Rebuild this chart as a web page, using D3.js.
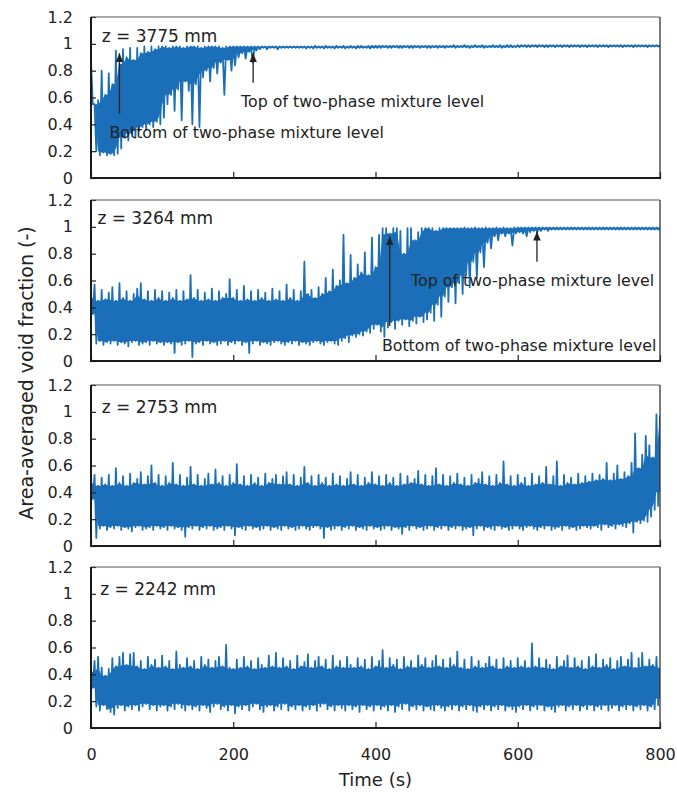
<!DOCTYPE html>
<html>
<head>
<meta charset="utf-8">
<script src="https://cdn.jsdelivr.net/npm/d3@7"></script>
<style>
  body { margin: 0; background: #fff; }
  text { font-family: "DejaVu Sans", sans-serif; fill: #222; }
</style>
</head>
<body>
<svg id="chart" width="677" height="792"></svg>
<script>
// time grid (s), one reading pair (peak / trough) per 5 s bin
const times = d3.range(0, 801, 5);
const yTicks = [0, 0.2, 0.4, 0.6, 0.8, 1, 1.2];
const xTicks = [0, 200, 400, 600, 800];
const panelLabels = ["z = 3775 mm", "z = 3264 mm", "z = 2753 mm", "z = 2242 mm"];

// z = 3775 mm
const z3775Hi = [
  0.87,0.55,0.58,0.80,0.62,0.78,0.70,0.95,0.85,0.96,0.90,0.97,0.88,0.97,0.93,0.98,0.94,0.98,0.96,0.98,
  0.98,0.98,0.97,0.98,0.98,0.98,0.97,0.98,0.98,0.98,0.98,0.97,0.98,0.98,0.98,0.98,0.98,0.97,0.98,0.98,
  0.98,0.98,0.98,0.98,0.98,0.98,0.98,0.98,0.98,0.98,0.98,0.98,0.98,0.98,0.98,0.98,0.98,0.98,0.98,0.98,
  0.98,0.98,0.98,0.985,0.98,0.98,0.985,0.98,0.98,0.985,0.98,0.985,0.98,0.985,0.98,0.985,0.985,0.98,0.985,0.985,
  0.985,0.985,0.985,0.985,0.985,0.985,0.985,0.985,0.985,0.985,0.985,0.985,0.985,0.985,0.985,0.985,0.985,0.985,0.985,0.985,
  0.985,0.985,0.99,0.985,0.985,0.99,0.985,0.985,0.99,0.985,0.99,0.985,0.985,0.99,0.985,0.99,0.985,0.99,0.99,0.985,
  0.99,0.99,0.99,0.99,0.99,0.99,0.99,0.99,0.99,0.99,0.99,0.99,0.99,0.99,0.99,0.99,0.99,0.99,0.99,0.99,
  0.99,0.99,0.99,0.99,0.99,0.99,0.99,0.99,0.99,0.99,0.99,0.99,0.99,0.99,0.99,0.99,0.99,0.99,0.99,0.99,
  0.99
];
const z3775Lo = [
  0.55,0.20,0.17,0.19,0.17,0.18,0.17,0.18,0.22,0.30,0.28,0.33,0.30,0.35,0.38,0.36,0.40,0.38,0.42,0.40,
  0.45,0.55,0.62,0.50,0.66,0.43,0.72,0.65,0.40,0.70,0.38,0.75,0.80,0.72,0.82,0.78,0.86,0.62,0.88,0.80,
  0.84,0.90,0.93,0.89,0.94,0.86,0.95,0.96,0.97,0.96,0.97,0.97,0.96,0.97,0.97,0.97,0.97,0.97,0.97,0.97,
  0.965,0.97,0.965,0.97,0.97,0.965,0.97,0.97,0.965,0.97,0.97,0.965,0.97,0.97,0.965,0.97,0.97,0.97,0.965,0.97,
  0.97,0.97,0.975,0.97,0.97,0.975,0.97,0.97,0.975,0.97,0.97,0.975,0.97,0.975,0.97,0.97,0.975,0.97,0.975,0.97,
  0.975,0.975,0.97,0.975,0.975,0.975,0.97,0.975,0.975,0.975,0.97,0.975,0.975,0.975,0.975,0.97,0.975,0.975,0.975,0.975,
  0.975,0.98,0.975,0.975,0.98,0.975,0.98,0.975,0.975,0.98,0.975,0.98,0.975,0.98,0.975,0.98,0.98,0.975,0.98,0.975,
  0.98,0.98,0.975,0.98,0.98,0.975,0.98,0.98,0.98,0.975,0.98,0.98,0.975,0.98,0.98,0.98,0.975,0.98,0.98,0.98,
  0.98
];

// z = 3264 mm
const z3264Hi = [
  0.48,0.57,0.45,0.53,0.46,0.51,0.55,0.45,0.58,0.47,0.52,0.45,0.50,0.54,0.58,0.46,0.52,0.45,0.53,0.47,
  0.52,0.45,0.51,0.47,0.53,0.45,0.52,0.46,0.64,0.47,0.53,0.45,0.51,0.46,0.54,0.45,0.52,0.47,0.50,0.61,
  0.47,0.53,0.45,0.56,0.46,0.52,0.45,0.53,0.47,0.51,0.45,0.54,0.46,0.52,0.45,0.57,0.47,0.53,0.45,0.52,
  0.74,0.50,0.53,0.47,0.55,0.50,0.62,0.52,0.68,0.56,0.60,0.94,0.58,0.79,0.62,0.72,0.66,0.81,0.64,0.92,
  0.70,0.94,0.99,0.99,0.95,0.99,0.99,0.97,0.80,0.99,0.99,0.90,0.96,0.99,0.99,0.99,0.99,0.97,0.99,0.99,
  0.99,0.99,0.99,0.99,0.99,0.995,0.99,0.99,0.995,0.99,0.99,0.995,0.99,0.99,0.995,0.99,0.995,0.99,0.99,0.995,
  0.995,0.995,0.995,0.995,0.995,0.995,0.995,0.995,0.995,0.995,0.995,0.995,0.995,0.995,0.995,0.995,0.995,0.995,0.995,0.995,
  0.995,0.995,0.995,0.995,0.995,0.995,0.995,0.995,0.995,0.995,0.995,0.995,0.995,0.995,0.995,0.995,0.995,0.995,0.995,0.995,
  0.995
];
const z3264Lo = [
  0.35,0.13,0.15,0.12,0.14,0.13,0.15,0.12,0.14,0.13,0.11,0.14,0.15,0.12,0.13,0.14,0.12,0.15,0.13,0.14,
  0.12,0.14,0.13,0.06,0.14,0.12,0.13,0.15,0.03,0.13,0.14,0.12,0.15,0.13,0.14,0.12,0.13,0.15,0.12,0.14,
  0.13,0.15,0.12,0.14,0.06,0.13,0.15,0.12,0.14,0.13,0.12,0.14,0.15,0.13,0.12,0.14,0.13,0.15,0.12,0.14,
  0.13,0.12,0.14,0.15,0.13,0.12,0.14,0.15,0.13,0.12,0.15,0.17,0.14,0.19,0.18,0.20,0.19,0.22,0.21,0.24,
  0.27,0.22,0.18,0.25,0.29,0.24,0.30,0.27,0.31,0.26,0.30,0.28,0.33,0.29,0.31,0.36,0.30,0.42,0.33,0.48,
  0.44,0.55,0.43,0.58,0.50,0.64,0.55,0.74,0.62,0.81,0.70,0.88,0.84,0.93,0.90,0.95,0.93,0.95,0.86,0.95,
  0.96,0.95,0.93,0.96,0.97,0.96,0.97,0.98,0.97,0.98,0.98,0.98,0.98,0.98,0.98,0.98,0.98,0.98,0.98,0.98,
  0.98,0.98,0.98,0.98,0.98,0.98,0.98,0.98,0.98,0.98,0.98,0.98,0.98,0.98,0.98,0.98,0.98,0.98,0.98,0.98,
  0.98
];

// z = 2753 mm
const z2753Hi = [
  0.48,0.53,0.45,0.51,0.46,0.53,0.45,0.58,0.47,0.52,0.45,0.54,0.47,0.50,0.55,0.46,0.52,0.60,0.47,0.53,
  0.45,0.52,0.47,0.62,0.46,0.53,0.45,0.51,0.59,0.46,0.53,0.45,0.50,0.54,0.46,0.57,0.47,0.52,0.45,0.53,
  0.47,0.61,0.46,0.52,0.45,0.53,0.47,0.51,0.45,0.54,0.47,0.50,0.53,0.46,0.52,0.55,0.46,0.53,0.45,0.51,
  0.59,0.47,0.52,0.45,0.53,0.47,0.51,0.45,0.54,0.46,0.52,0.45,0.50,0.55,0.46,0.53,0.45,0.51,0.47,0.55,
  0.46,0.52,0.45,0.53,0.47,0.51,0.45,0.54,0.46,0.52,0.47,0.50,0.56,0.46,0.53,0.45,0.52,0.58,0.46,0.53,
  0.45,0.52,0.47,0.54,0.46,0.51,0.45,0.53,0.47,0.50,0.55,0.46,0.52,0.45,0.53,0.47,0.63,0.46,0.52,0.45,
  0.53,0.47,0.51,0.45,0.54,0.46,0.52,0.47,0.59,0.46,0.52,0.63,0.45,0.53,0.47,0.51,0.46,0.54,0.47,0.52,
  0.48,0.54,0.49,0.53,0.50,0.62,0.49,0.54,0.60,0.50,0.55,0.52,0.62,0.84,0.58,0.68,0.82,0.75,0.66,0.98,
  0.97
];
const z2753Lo = [
  0.35,0.06,0.13,0.15,0.12,0.14,0.13,0.15,0.12,0.14,0.13,0.11,0.14,0.15,0.12,0.13,0.14,0.12,0.15,0.13,
  0.14,0.12,0.15,0.13,0.14,0.12,0.07,0.14,0.13,0.15,0.12,0.14,0.13,0.15,0.12,0.13,0.14,0.12,0.15,0.13,
  0.08,0.14,0.13,0.12,0.15,0.13,0.14,0.12,0.13,0.15,0.12,0.14,0.13,0.12,0.15,0.13,0.14,0.12,0.13,0.15,
  0.13,0.12,0.14,0.15,0.13,0.06,0.14,0.12,0.13,0.15,0.12,0.14,0.13,0.15,0.12,0.14,0.13,0.12,0.15,0.13,
  0.14,0.12,0.13,0.15,0.12,0.14,0.13,0.09,0.14,0.12,0.15,0.13,0.14,0.12,0.13,0.15,0.12,0.14,0.13,0.15,
  0.12,0.14,0.13,0.15,0.12,0.13,0.14,0.08,0.13,0.15,0.12,0.14,0.13,0.12,0.15,0.13,0.14,0.12,0.13,0.15,
  0.13,0.12,0.14,0.15,0.13,0.12,0.14,0.13,0.15,0.12,0.13,0.14,0.12,0.15,0.13,0.14,0.12,0.13,0.15,0.14,
  0.13,0.15,0.14,0.12,0.16,0.14,0.15,0.13,0.16,0.15,0.14,0.17,0.10,0.18,0.17,0.19,0.18,0.22,0.27,0.30,
  0.40
];

// z = 2242 mm
const z2242Hi = [
  0.42,0.50,0.53,0.45,0.39,0.44,0.52,0.46,0.53,0.56,0.47,0.55,0.56,0.46,0.50,0.44,0.53,0.47,0.51,0.45,
  0.54,0.46,0.50,0.44,0.57,0.47,0.45,0.52,0.46,0.50,0.44,0.53,0.47,0.51,0.45,0.50,0.53,0.46,0.62,0.45,
  0.44,0.51,0.45,0.53,0.46,0.50,0.44,0.52,0.47,0.45,0.54,0.46,0.56,0.45,0.52,0.46,0.50,0.44,0.54,0.46,
  0.49,0.55,0.45,0.50,0.53,0.46,0.51,0.44,0.54,0.46,0.50,0.45,0.53,0.47,0.45,0.52,0.46,0.51,0.44,0.53,
  0.46,0.50,0.58,0.45,0.52,0.47,0.51,0.44,0.53,0.46,0.50,0.45,0.54,0.47,0.52,0.45,0.50,0.54,0.46,0.51,
  0.45,0.52,0.47,0.57,0.45,0.51,0.44,0.53,0.46,0.50,0.45,0.48,0.53,0.46,0.51,0.44,0.52,0.46,0.50,0.45,
  0.52,0.46,0.50,0.45,0.63,0.46,0.52,0.45,0.51,0.47,0.44,0.53,0.46,0.50,0.54,0.45,0.52,0.46,0.50,0.44,
  0.53,0.46,0.55,0.45,0.51,0.47,0.52,0.44,0.50,0.53,0.46,0.51,0.56,0.45,0.52,0.56,0.46,0.51,0.47,0.53,
  0.45
];
const z2242Lo = [
  0.30,0.16,0.13,0.17,0.14,0.12,0.10,0.15,0.17,0.13,0.16,0.14,0.17,0.13,0.16,0.18,0.14,0.17,0.13,0.16,
  0.17,0.13,0.16,0.14,0.18,0.15,0.13,0.17,0.14,0.16,0.13,0.17,0.15,0.12,0.16,0.18,0.14,0.16,0.13,0.17,
  0.11,0.16,0.14,0.17,0.13,0.16,0.18,0.14,0.12,0.16,0.17,0.13,0.16,0.14,0.18,0.13,0.16,0.14,0.17,0.13,
  0.16,0.14,0.17,0.13,0.16,0.18,0.14,0.16,0.13,0.17,0.15,0.13,0.17,0.14,0.16,0.12,0.17,0.14,0.16,0.13,
  0.17,0.14,0.16,0.13,0.17,0.12,0.16,0.14,0.18,0.13,0.16,0.14,0.17,0.13,0.16,0.14,0.13,0.17,0.15,0.13,
  0.16,0.14,0.17,0.13,0.16,0.14,0.17,0.13,0.12,0.16,0.14,0.17,0.13,0.16,0.14,0.17,0.13,0.16,0.14,0.12,
  0.16,0.14,0.17,0.13,0.16,0.14,0.17,0.13,0.16,0.14,0.12,0.16,0.17,0.13,0.16,0.14,0.17,0.13,0.16,0.14,
  0.17,0.13,0.16,0.14,0.17,0.13,0.15,0.17,0.13,0.16,0.14,0.17,0.13,0.16,0.14,0.17,0.13,0.16,0.14,0.17,
  0.22
];

// annotation anchors in data units: [time, value]
const arrows = [
  { panel: 0, from: [40, 0.48], to: [40, 0.93] },
  { panel: 0, from: [228, 0.71], to: [228, 0.93] },
  { panel: 1, from: [420, 0.26], to: [420, 0.93] },
  { panel: 1, from: [627, 0.74], to: [627, 0.965] }
];
const notes = [
  { panel: 0, at: [211, 0.53], text: "Top of two-phase mixture level" },
  { panel: 0, at: [26, 0.30], text: "Bottom of two-phase mixture level" },
  { panel: 1, at: [450, 0.56], text: "Top of two-phase mixture level" },
  { panel: 1, at: [409, 0.075], text: "Bottom of two-phase mixture level" }
];
const labelAt = [[15, 1.01], [9, 1.02], [15, 0.99], [13, 0.99]];

const series = [[z3775Hi, z3775Lo], [z3264Hi, z3264Lo], [z2753Hi, z2753Lo], [z2242Hi, z2242Lo]];

const svg = d3.select("#chart");
const left = 91, plotW = 569, plotH = 161;
const tops = [17, 200, 385, 567];
const blue = "#1b6fb8";

const x = d3.scaleLinear().domain([0, 800]).range([0, plotW]);
const y = d3.scaleLinear().domain([0, 1.2]).range([plotH, 0]);

svg.append("defs").append("marker")
  .attr("id", "head")
  .attr("viewBox", "0 0 10 10")
  .attr("refX", 10).attr("refY", 5)
  .attr("markerUnits", "userSpaceOnUse")
  .attr("markerWidth", 9).attr("markerHeight", 9)
  .attr("orient", "auto")
  .append("path").attr("d", "M0,0.8 L10,5 L0,9.2 Z").attr("fill", "#222");

// peak/trough zigzag through each bin
function zigzag(hi, lo) {
  const n = Math.min(times.length, hi.length, lo.length);
  const pts = [];
  for (let i = 0; i < n; i++) {
    pts.push([times[i], hi[i]]);
    if (i < n - 1) pts.push([(times[i] + times[i + 1]) / 2, lo[i]]);
  }
  return pts;
}

// dense core of the signal: lowest neighbouring peak down to highest neighbouring trough
function core(hi, lo) {
  const n = Math.min(times.length, hi.length, lo.length);
  return d3.range(n).map(i => {
    const a = Math.max(0, i - 1), b = Math.min(n - 1, i + 1);
    const top = d3.min(hi.slice(a, b + 1));
    const bot = Math.min(top, d3.max(lo.slice(a, b + 1)));
    return { t: times[i], top, bot };
  });
}

const line = d3.line().x(d => x(d[0])).y(d => y(d[1]));
const area = d3.area().x(d => x(d.t)).y0(d => y(d.bot)).y1(d => y(d.top));

series.forEach((s, k) => {
  const g = svg.append("g").attr("transform", `translate(${left},${tops[k]})`);

  g.append("clipPath").attr("id", "clip" + k)
    .append("rect").attr("width", plotW).attr("height", plotH);

  const plot = g.append("g").attr("clip-path", `url(#clip${k})`);

  plot.append("path")
    .datum(core(s[0], s[1]))
    .attr("fill", blue)
    .attr("d", area);

  plot.append("path")
    .datum(zigzag(s[0], s[1]))
    .attr("fill", "none")
    .attr("stroke", blue)
    .attr("stroke-width", 1.8)
    .attr("stroke-linejoin", "round")
    .attr("d", line);

  // y axis, ticks inward
  const ya = g.append("g").call(d3.axisLeft(y).tickValues(yTicks).tickSize(-5).tickPadding(18)
    .tickFormat(d => String(d)));
  ya.select(".domain").remove();
  ya.selectAll("line").attr("stroke", "#222").attr("stroke-width", 1.2);
  ya.selectAll("text").attr("font-size", 16).attr("fill", "#222")
    .style("font-family", "'DejaVu Sans', sans-serif");

  // x axis, ticks inward
  const last = k === series.length - 1;
  const xa = g.append("g").attr("transform", `translate(0,${plotH})`)
    .call(d3.axisBottom(x).tickValues(xTicks).tickSize(-6).tickPadding(21)
      .tickFormat(d => last ? String(d) : ""));
  xa.select(".domain").remove();
  xa.selectAll("line").attr("stroke", "#222").attr("stroke-width", 1.2);
  xa.selectAll("text").attr("font-size", 16).attr("fill", "#222")
    .style("font-family", "'DejaVu Sans', sans-serif");

  // frame
  g.append("line").attr("x1", plotW).attr("x2", plotW).attr("y1", 0).attr("y2", plotH)
    .attr("stroke", "#333").attr("stroke-width", 1.3);
  g.append("line").attr("x1", 0).attr("x2", plotW).attr("y1", 0).attr("y2", 0)
    .attr("stroke", "#555").attr("stroke-width", 1.2);
  g.append("line").attr("x1", 0).attr("x2", 0).attr("y1", 0).attr("y2", plotH + 1)
    .attr("stroke", "#1a1a1a").attr("stroke-width", 2);
  g.append("line").attr("x1", -1).attr("x2", plotW + 1).attr("y1", plotH).attr("y2", plotH)
    .attr("stroke", "#1a1a1a").attr("stroke-width", 2);

  g.append("text")
    .attr("x", x(labelAt[k][0])).attr("y", y(labelAt[k][1]))
    .attr("font-size", 17)
    .text(panelLabels[k]);

  arrows.filter(a => a.panel === k).forEach(a => {
    g.append("line")
      .attr("x1", x(a.from[0])).attr("y1", y(a.from[1]))
      .attr("x2", x(a.to[0])).attr("y2", y(a.to[1]))
      .attr("stroke", "#222").attr("stroke-width", 1.3)
      .attr("marker-end", "url(#head)");
  });

  notes.filter(n => n.panel === k).forEach(n => {
    g.append("text")
      .attr("x", x(n.at[0])).attr("y", y(n.at[1]))
      .attr("font-size", 15.8)
      .text(n.text);
  });
});

svg.append("text")
  .attr("transform", "translate(33,373) rotate(-90)")
  .attr("text-anchor", "middle")
  .attr("font-size", 19)
  .text("Area-averaged void fraction (-)");

svg.append("text")
  .attr("x", left + x(400)).attr("y", 786)
  .attr("text-anchor", "middle")
  .attr("font-size", 18)
  .text("Time (s)");
</script>
</body>
</html>
